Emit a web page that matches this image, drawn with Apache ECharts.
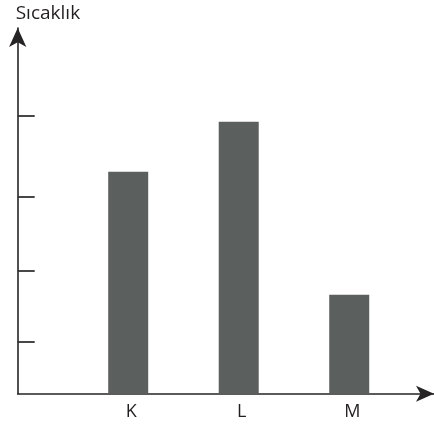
<!DOCTYPE html>
<html>
<head>
<meta charset="utf-8">
<style>
  html, body { margin: 0; padding: 0; background: #ffffff; }
  #chart { width: 434px; height: 427px; }
</style>
<script src="https://cdn.jsdelivr.net/npm/echarts@6/dist/echarts.min.js"></script>
</head>
<body>
<div id="chart"></div>
<script>
// ---- data ----
var categories = ['K', 'L', 'M'];
var temperatures = [222, 272, 99];
var yTickValues = [52, 123, 197, 278];
var yAxisName = 'Sıcaklık';

// ---- chart ----
var chart = echarts.init(document.getElementById('chart'), null, { renderer: 'canvas' });
var axisColor = '#262425';
var barData = temperatures.map(function (v, i) { return [i + 1, v]; });
var catPositions = categories.map(function (c, i) { return i + 1; });

var option = {
  animation: false,
  backgroundColor: '#ffffff',
  grid: { left: 17.7, right: 0, top: 28, bottom: 33.3, containLabel: false },
  xAxis: {
    type: 'value',
    min: 0,
    max: 3.767,
    splitLine: { show: false },
    axisLine: {
      show: true, onZero: false,
      symbol: ['none', 'arrow'], symbolSize: [12, 18],
      lineStyle: { color: axisColor, width: 1.6 }
    },
    axisTick: { show: false },
    axisLabel: {
      show: true,
      customValues: catPositions,
      formatter: function (v) { return categories[Math.round(v) - 1] || ''; },
      color: '#231f20',
      fontFamily: 'Open Sans',
      fontSize: 18,
      margin: 9,
      padding: [0, 0, 0, 6]
    }
  },
  yAxis: {
    type: 'value',
    min: 0,
    max: 365.7,
    name: yAxisName,
    nameLocation: 'end',
    nameGap: 5,
    nameTextStyle: { color: '#231f20', fontFamily: 'Open Sans', fontSize: 19, align: 'left', padding: [0, 0, 0, -2] },
    splitLine: { show: false },
    axisLine: {
      show: true, onZero: false,
      symbol: ['none', 'arrow'], symbolSize: [13, 19],
      lineStyle: { color: axisColor, width: 1.6 }
    },
    axisTick: {
      show: true, inside: true, length: 17,
      customValues: yTickValues,
      lineStyle: { color: '#333333', width: 1.8 }
    },
    axisLabel: { show: false }
  },
  series: [{
    type: 'bar',
    data: barData,
    barWidth: 40,
    itemStyle: { color: '#5b5f5d' }
  }]
};
chart.setOption(option);
</script>
</body>
</html>
